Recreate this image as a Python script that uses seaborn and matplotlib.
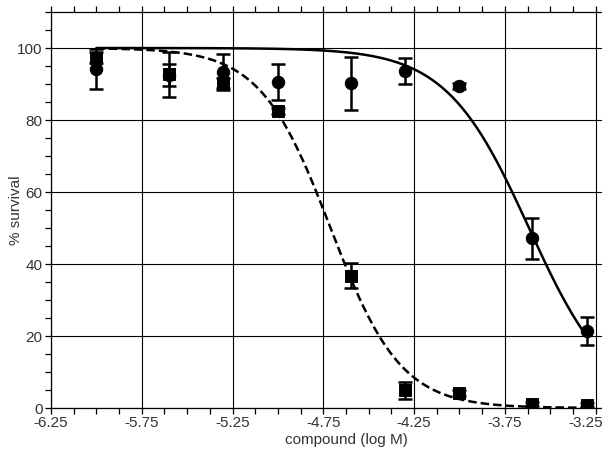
import matplotlib
matplotlib.use("Agg")
import matplotlib.pyplot as plt
import matplotlib.transforms as mtransforms
from matplotlib.ticker import MultipleLocator, FormatStrFormatter
import seaborn as sns
import numpy as np
import pandas as pd

# measured points (log M concentration)
conc = [-6.0, -5.6, -5.3, -5.0, -4.6, -4.3, -4.0, -3.6, -3.3]
circle_mean = [94.2, 92.5, 93.2, 90.5, 90.2, 93.6, 89.5, 47.1, 21.4]
circle_err = [5.5, 3.0, 5.0, 5.0, 7.4, 3.6, 0.8, 5.6, 4.0]
square_mean = [97.3, 92.7, 90.3, 82.6, 36.8, 4.9, 4.2, 1.1, 0.8]
square_err = [1.5, 6.3, 1.5, 0.8, 3.6, 2.3, 0.8, 0.5, 0.5]

# fitted 4PL parameters (top, bottom, logIC50, hill)
circle_fit = (100.0, 0.0, -3.617, 1.9)
square_fit = (100.0, 0.0, -4.71, 2.25)

x_ticks = [-6.25, -5.75, -5.25, -4.75, -4.25, -3.75, -3.25]
y_ticks = [0, 20, 40, 60, 80, 100]


def logistic(x, top, bottom, logic50, hill):
    return bottom + (top - bottom) / (1 + 10 ** ((x - logic50) * hill))


sns.set_style("ticks")
plt.rcParams['font.family'] = ['Liberation Sans', 'DejaVu Sans']

fig = plt.figure(figsize=(6.02, 4.58), dpi=100)
# axes runs past the right edge: the reference is cropped there
ax = fig.add_axes([51 / 602, 1 - 408 / 458, 590 / 602, 396 / 458])

xs = np.linspace(min(conc), max(conc), 300)
curves = pd.DataFrame({
    'x': np.concatenate([xs, xs]),
    'y': np.concatenate([logistic(xs, *circle_fit), logistic(xs, *square_fit)]),
    'series': ['circle'] * len(xs) + ['square'] * len(xs),
})
sns.lineplot(data=curves, x='x', y='y', style='series',
             dashes={'circle': '', 'square': (3.4, 1.6)},
             color='black', linewidth=1.8, legend=False, ax=ax, zorder=3)

ax.errorbar(conc, circle_mean, yerr=circle_err, fmt='none', ecolor='black',
            elinewidth=1.8, capsize=5, capthick=1.8, zorder=4)
ax.errorbar(conc, square_mean, yerr=square_err, fmt='none', ecolor='black',
            elinewidth=1.8, capsize=5, capthick=1.8, zorder=4)
sns.scatterplot(x=conc, y=circle_mean, marker='o', s=80, color='black',
                edgecolor='black', ax=ax, zorder=5)
sns.scatterplot(x=conc, y=square_mean, marker='s', s=72, color='black',
                edgecolor='black', ax=ax, zorder=6)

ax.set_xlim(-6.25, -3.0)
ax.set_ylim(0, 110)
ax.set_xticks(x_ticks)
ax.xaxis.set_major_formatter(FormatStrFormatter('%.2f'))
ax.xaxis.set_minor_locator(MultipleLocator(0.125))
ax.set_yticks(y_ticks)
ax.yaxis.set_minor_locator(MultipleLocator(5))

ax.grid(True, which='major', color='black', linewidth=0.8)
ax.set_axisbelow(True)

for side in ['left', 'bottom', 'top']:
    ax.spines[side].set_visible(True)
    ax.spines[side].set_color('black')
    ax.spines[side].set_linewidth(0.9)
ax.spines['right'].set_visible(False)

ax.tick_params(axis='x', which='both', top=True, direction='out', length=4,
               width=0.9, colors='black', labelcolor='#333333', labelsize=11, pad=2)
ax.tick_params(axis='y', which='both', direction='out', length=4, width=0.9,
               colors='black', labelcolor='#333333', labelsize=11, pad=2)

# keep the last tick label inside the picture
last = ax.get_xticklabels()[-1]
last.set_transform(last.get_transform() +
                   mtransforms.ScaledTranslation(-0.1, 0, fig.dpi_scale_trans))

ax.set_xlabel('compound (log M)', fontsize=11, color='#333333', labelpad=2)
ax.set_ylabel('% survival', fontsize=11, color='#333333')
ax.yaxis.set_label_coords(-0.047, 0.5)

fig.savefig('out.png', dpi=100)
